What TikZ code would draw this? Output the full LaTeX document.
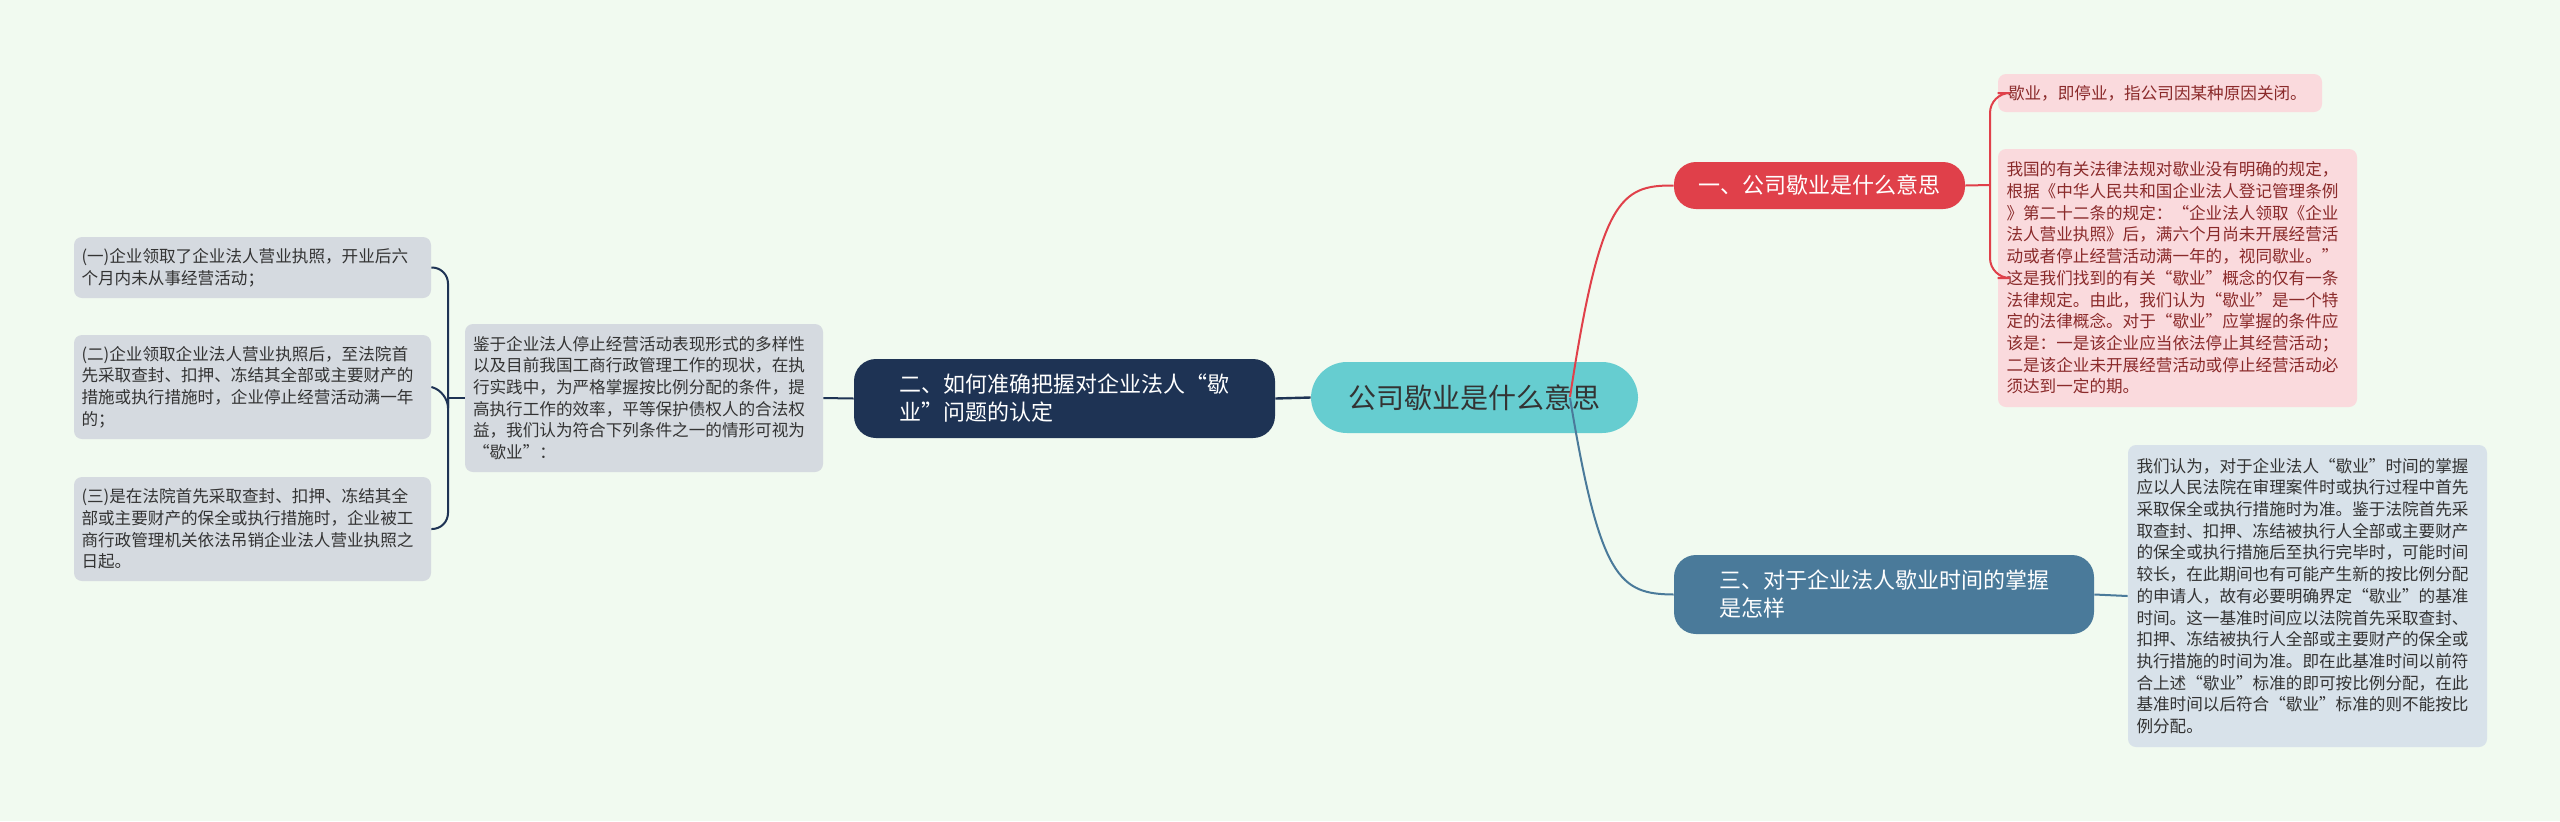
\documentclass[tikz,border=0pt]{standalone}
\usepackage{fontspec}
\setmainfont{Noto Sans CJK SC}
\begin{document}
\begin{tikzpicture}[x=0.5pt,y=-0.5pt,
  txt/.style={rectangle,rounded corners=4pt,inner sep=0pt,align=left,font=\fontsize{8.3pt}{10.85pt}\selectfont},
  pinkbox/.style={txt,fill=pinkc,text=pinkt},
  graybox/.style={txt,fill=grayc,text=grayt},
  bluebox/.style={txt,fill=bluec,text=grayt},
  branch/.style={rectangle,rounded corners=11pt,inner sep=0pt,text=white,align=left,font=\fontsize{11pt}{14pt}\selectfont}]
\definecolor{bgc}{HTML}{F1FAF0}
\definecolor{pinkc}{HTML}{FADADD}
\definecolor{pinkt}{HTML}{8A2A2A}
\definecolor{grayc}{HTML}{D5DAE0}
\definecolor{bluec}{HTML}{D8E2EA}
\definecolor{grayt}{HTML}{333333}
\definecolor{redc}{HTML}{E0404A}
\definecolor{navyc}{HTML}{1E3354}
\definecolor{steelc}{HTML}{4A7A9A}
\definecolor{tealc}{HTML}{66CDD0}
\fill[bgc] (0,0) rectangle (2560,821);
\useasboundingbox (0,0) rectangle (2560,821);

\node[rectangle,rounded corners=18pt,fill=tealc,minimum width=163.5pt,minimum height=35.5pt,text=grayt,font=\fontsize{14pt}{16pt}\selectfont] (c) at (1474.5,397.5) {公司歇业是什么意思};

\node[branch,fill=redc,minimum width=145.5pt,minimum height=23.5pt] (b1) at (1819.5,185.5) {一、公司歇业是什么意思};
\node[branch,fill=navyc,minimum width=210.5pt,minimum height=39.5pt] (b2) at (1064.5,398.5) {二、如何准确把握对企业法人“歇\\业”问题的认定};
\node[branch,fill=steelc,minimum width=210pt,minimum height=39.5pt] (b3) at (1884,594.5) {三、对于企业法人歇业时间的掌握\\是怎样};

\node[pinkbox,minimum width=162pt,minimum height=19pt,text width=152pt] (p1) at (2160,93) {歇业，即停业，指公司因某种原因关闭。};
\node[pinkbox,minimum width=179.5pt,minimum height=129pt,text width=171pt] (p2) at (2177.5,278) {我国的有关法律法规对歇业没有明确的规定，\\根据《中华人民共和国企业法人登记管理条例\\》第二十二条的规定：“企业法人领取《企业\\法人营业执照》后，满六个月尚未开展经营活\\动或者停止经营活动满一年的，视同歇业。”\\这是我们找到的有关“歇业”概念的仅有一条\\法律规定。由此，我们认为“歇业”是一个特\\定的法律概念。对于“歇业”应掌握的条件应\\该是：一是该企业应当依法停止其经营活动；\\二是该企业未开展经营活动或停止经营活动必\\须达到一定的期。};

\node[bluebox,minimum width=179.5pt,minimum height=151pt,text width=171pt] (p3) at (2307.5,596) {我们认为，对于企业法人“歇业”时间的掌握\\应以人民法院在审理案件时或执行过程中首先\\采取保全或执行措施时为准。鉴于法院首先采\\取查封、扣押、冻结被执行人全部或主要财产\\的保全或执行措施后至执行完毕时，可能时间\\较长，在此期间也有可能产生新的按比例分配\\的申请人，故有必要明确界定“歇业”的基准\\时间。这一基准时间应以法院首先采取查封、\\扣押、冻结被执行人全部或主要财产的保全或\\执行措施的时间为准。即在此基准时间以前符\\合上述“歇业”标准的即可按比例分配，在此\\基准时间以后符合“歇业”标准的则不能按比\\例分配。};

\node[graybox,minimum width=179pt,minimum height=74pt,text width=171pt] (m) at (644,398) {鉴于企业法人停止经营活动表现形式的多样性\\以及目前我国工商行政管理工作的现状，在执\\行实践中，为严格掌握按比例分配的条件，提\\高执行工作的效率，平等保护债权人的合法权\\益，我们认为符合下列条件之一的情形可视为\\“歇业”：};

\node[graybox,minimum width=178.5pt,minimum height=30.5pt,text width=171pt] (l1) at (252.5,267.5) {(一)企业领取了企业法人营业执照，开业后六\\个月内未从事经营活动；};
\node[graybox,minimum width=178.5pt,minimum height=52pt,text width=171pt] (l2) at (252.5,387) {(二)企业领取企业法人营业执照后，至法院首\\先采取查封、扣押、冻结其全部或主要财产的\\措施或执行措施时，企业停止经营活动满一年\\的；};
\node[graybox,minimum width=178.5pt,minimum height=52pt,text width=171pt] (l3) at (252.5,529) {(三)是在法院首先采取查封、扣押、冻结其全\\部或主要财产的保全或执行措施时，企业被工\\商行政管理机关依法吊销企业法人营业执照之\\日起。};

\coordinate (c1) at (1570,397);
\coordinate (c3) at (1570,398);
\draw[redc,line width=1pt] (c1) .. controls (1600,200) and (1620,185) .. (b1.west);
\draw[steelc,line width=1pt] (c3) .. controls (1600,580) and (1620,594) .. (b3.west);
\draw[navyc,line width=1.2pt] (c.west) -- (b2.east);
\draw[navyc,line width=1pt] (b2.west) -- (m.east);

\coordinate (rb) at (1990,185);
\draw[redc,line width=1pt] (b1.east) -- (rb);
\draw[redc,line width=1pt,rounded corners=10pt] (p1.west) -- (1990,93) -- (1990,278) -- (p2.west);
\draw[steelc,line width=1pt] (b3.east) -- (p3.west);

\coordinate (lb) at (448,398);
\draw[navyc,line width=1pt] (m.west) -- (lb);
\draw[navyc,line width=1pt,rounded corners=8pt] (l1.east) -- (448,267.5) -- (448,529) -- (l3.east);
\draw[navyc,line width=1pt,rounded corners=8pt] (l2.east) -- (448,392) -- (448,398);
\end{tikzpicture}
\end{document}
